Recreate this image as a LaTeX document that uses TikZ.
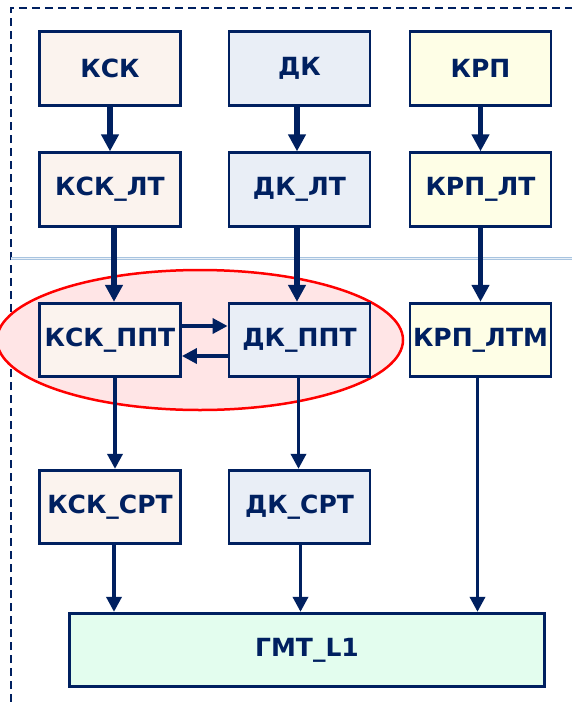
\documentclass[tikz,border=0pt]{standalone}
\usepackage{fontspec}
\setmainfont{DejaVu Sans}
\usetikzlibrary{arrows.meta}
\definecolor{navy}{HTML}{002060}
\definecolor{kskfill}{HTML}{FBF3EE}
\definecolor{dkfill}{HTML}{E9EEF6}
\definecolor{krpfill}{HTML}{FEFEE6}
\definecolor{gmtfill}{HTML}{E3FDEE}
\definecolor{ovalfill}{HTML}{FFE5E6}
\definecolor{rulecol}{HTML}{A8C4E0}
\definecolor{rulelight}{HTML}{E8F0F8}
\tikzset{block/.style={
  rectangle,
  draw=navy,line width=2.8pt,
  text=navy,font=\fontsize{25}{29}\selectfont\bfseries,
  inner sep=0pt,minimum width=141pt,minimum height=73.5pt}}
\tikzset{feed/.style={draw=navy,line width=5.5pt,-{Triangle[width=17pt,length=17pt]}}}
\tikzset{link/.style={draw=navy,line width=3.5pt,-{Triangle[width=15pt,length=15pt]}}}

\begin{document}
\begin{tikzpicture}[x={(1pt,0pt)},y={(0pt,-1pt)}]
  \useasboundingbox (0,0) rectangle (572,702);
  % frame and separator
  \draw[navy,line width=2.2pt,dash pattern=on 8pt off 5pt] (11,702) -- (11,8) -- (572,8);
  \draw[draw=rulecol,double=rulelight,line width=1pt,double distance=1pt] (11,258) -- (572,258);
  \draw[red,line width=2.5pt,fill=ovalfill] (200,340) ellipse [x radius=203pt,y radius=70pt];
  \foreach \n/\p/\f/\l in {
      ksk/{(110,68.5)}/kskfill/КСК,
      dk/{(299.5,68.5)}/dkfill/ДК,
      krp/{(480.5,68.5)}/krpfill/КРП,
      kskLT/{(110,189.5)}/kskfill/КСК\_ЛТ,
      dkLT/{(299.5,189.5)}/dkfill/ДК\_ЛТ,
      krpLT/{(480.5,189.5)}/krpfill/КРП\_ЛТ,
      kskPPT/{(110,340)}/kskfill/КСК\_ППТ,
      dkPPT/{(299.5,340)}/dkfill/ДК\_ППТ,
      krpLTM/{(480.5,340)}/krpfill/КРП\_ЛТМ,
      kskSRT/{(110,507)}/kskfill/КСК\_СРТ,
      dkSRT/{(299.5,507)}/dkfill/ДК\_СРТ }
    \node[block,fill=\f] (\n) at \p {\l};
  \node[block,fill=gmtfill,minimum width=475pt] (gmt) at (307,650) {ГМТ\_L1};
  \foreach \a/\b/\s in {ksk/kskLT/0,dk/dkLT/-2.5,krp/krpLT/0,
      kskLT/kskPPT/4,dkLT/dkPPT/-2.5,krpLT/krpLTM/0}
    \draw[feed] ([xshift=\s pt]\a.south) -- ([xshift=\s pt]\a.south |- \b.north);
  \foreach \a/\b/\s in {kskPPT/kskSRT/5,dkPPT/dkSRT/-1,
      kskSRT/gmt/4,dkSRT/gmt/1,krpLTM/gmt/-3}
    \draw[link] ([xshift=\s pt]\a.south) -- ([xshift=\s pt]\a.south |- \b.north);
  \draw[link] ([yshift=14pt]kskPPT.east) -- ([yshift=14pt]dkPPT.west);
  \draw[link] ([yshift=-16pt]dkPPT.west) -- ([yshift=-16pt]kskPPT.east);
\end{tikzpicture}
\end{document}
